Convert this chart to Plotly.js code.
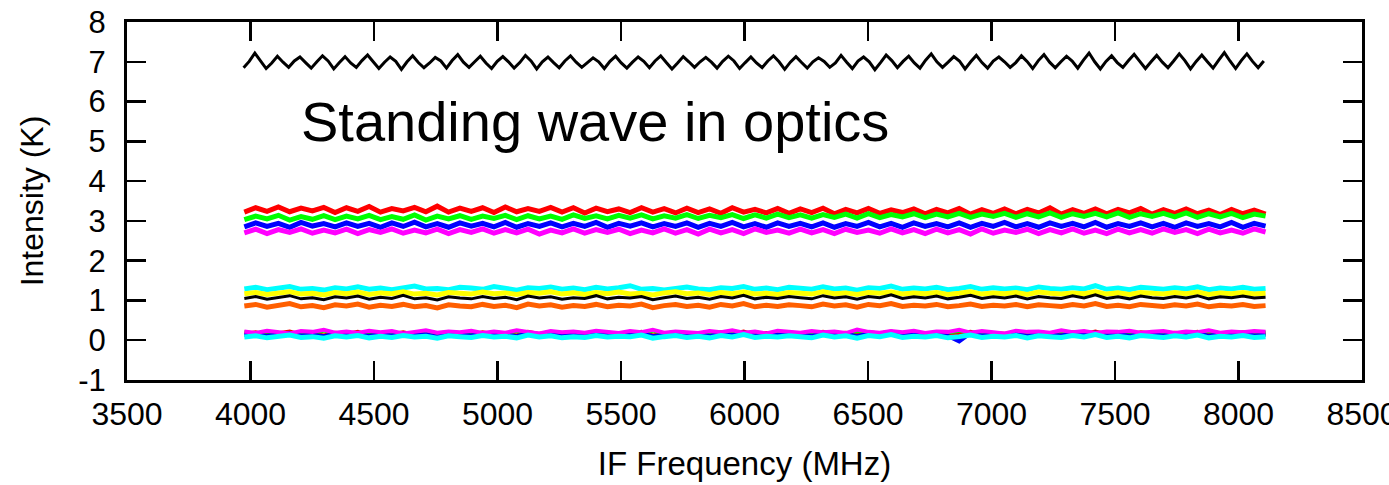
<!DOCTYPE html>
<html><head><meta charset="utf-8">
<script src="https://cdn.plot.ly/plotly-3.0.1.min.js"></script>
<style>html,body{margin:0;padding:0;background:#fff}#chart{width:1389px;height:485px}</style>
</head><body><div id="chart"></div>
<script>
// Frequency grids (MHz)
const TOP_START = 3972, TOP_STEP = 22.82;   // black standing-wave spectrum
const BAND_START = 3975, BAND_STEP = 45.94; // other spectra

// Top black spectrum (standing wave in optics), K
const topBlack = [
6.85,7.01,7.22,7.03, 6.83,6.97,7.14,6.99, 6.86,7.02,7.12,6.98, 6.84,7.0,7.15,7.02, 6.82,6.98,7.13,6.97,
6.86,7.03,7.17,7.0, 6.83,6.99,7.12,7.01, 6.81,7.0,7.15,6.98, 6.85,6.97,7.11,7.02, 6.84,7.03,7.18,6.99,
6.86,7.0,7.14,6.97, 6.83,7.01,7.13,7.0, 6.84,6.98,7.16,7.02, 6.82,7.0,7.12,6.98, 6.85,7.02,7.15,6.99,
6.86,6.98,7.1,7.0, 6.83,7.01,7.14,6.97, 6.84,6.99,7.12,7.01, 6.85,7.02,7.15,6.98, 6.82,6.97,7.13,7.0,
6.86,7.0,7.11,6.99, 6.84,7.01,7.14,7.02, 6.83,6.98,7.12,6.97, 6.85,7.02,7.15,7.0, 6.81,6.99,7.13,6.98,
6.84,7.0,7.1,7.01, 6.86,6.97,7.16,6.99, 6.83,7.02,7.12,7.0, 6.8,6.98,7.17,7.03, 6.85,7.01,7.14,6.97,
6.84,7.04,7.2,7.0, 6.86,6.99,7.13,7.02, 6.82,7.0,7.16,6.98, 6.84,7.02,7.12,7.0, 6.86,6.98,7.15,7.01,
6.83,7.03,7.18,6.99, 6.85,7.0,7.14,7.02, 6.84,7.04,7.22,7.0, 6.82,7.01,7.15,6.98, 6.86,7.03,7.19,7.01,
6.83,7.0,7.16,6.99, 6.85,7.02,7.2,7.03, 6.82,7.01,7.17,7.0, 6.84,7.04,7.23,7.02, 6.83,7.03,7.2,7.01,
6.85,7.02];

// ~3 K group
const redHi = [
3.22,3.33,3.24,3.35,3.23,3.32,3.25,3.34,3.21,3.33,
3.24,3.36,3.22,3.31,3.25,3.34,3.23,3.37,3.22,3.32,
3.24,3.33,3.21,3.35,3.23,3.31,3.24,3.34,3.22,3.33,
3.2,3.32,3.23,3.3,3.21,3.33,3.22,3.31,3.2,3.32,
3.21,3.3,3.19,3.33,3.22,3.29,3.2,3.31,3.19,3.3,
3.21,3.32,3.18,3.29,3.2,3.31,3.19,3.28,3.21,3.3,
3.18,3.29,3.2,3.31,3.17,3.28,3.19,3.3,3.18,3.29,
3.2,3.33,3.17,3.28,3.19,3.3,3.18,3.29,3.2,3.31,
3.17,3.28,3.19,3.3,3.18,3.27,3.16,3.29,3.18,3.27,3.17];
const greenHi = [
3.03,3.12,3.05,3.14,3.02,3.11,3.04,3.13,3.03,3.12,
3.05,3.14,3.03,3.11,3.04,3.15,3.02,3.12,3.05,3.13,
3.04,3.12,3.06,3.14,3.03,3.13,3.05,3.12,3.04,3.15,
3.06,3.13,3.05,3.14,3.07,3.15,3.05,3.13,3.07,3.16,
3.06,3.14,3.08,3.16,3.06,3.15,3.07,3.17,3.08,3.15,
3.07,3.16,3.09,3.17,3.07,3.18,3.08,3.16,3.1,3.18,
3.08,3.17,3.1,3.19,3.09,3.17,3.11,3.19,3.09,3.18,
3.1,3.2,3.09,3.18,3.11,3.19,3.1,3.2,3.09,3.18,
3.11,3.19,3.1,3.2,3.09,3.18,3.1,3.19,3.08,3.17,3.12];
const blueHi = [
2.85,2.95,2.86,2.94,2.84,2.96,2.87,2.93,2.85,2.95,
2.86,2.94,2.84,2.95,2.86,2.97,2.85,2.93,2.84,2.95,
2.87,2.94,2.85,2.96,2.84,2.93,2.86,2.95,2.85,2.94,
2.86,2.96,2.84,2.94,2.87,2.95,2.85,2.93,2.86,2.95,
2.84,2.94,2.86,2.96,2.85,2.93,2.84,2.95,2.86,2.94,
2.85,2.95,2.84,2.93,2.86,2.96,2.85,2.94,2.84,2.95,
2.86,2.93,2.85,2.95,2.84,2.94,2.86,2.96,2.85,2.93,
2.84,2.95,2.86,2.94,2.85,2.96,2.84,2.93,2.86,2.95,
2.85,2.94,2.84,2.95,2.86,2.93,2.85,2.96,2.84,2.94,2.87];
const magentaHi = [
2.7,2.79,2.68,2.78,2.71,2.8,2.69,2.77,2.7,2.79,
2.68,2.78,2.71,2.8,2.69,2.77,2.7,2.79,2.68,2.78,
2.71,2.8,2.69,2.78,2.7,2.79,2.67,2.77,2.7,2.8,
2.69,2.78,2.71,2.79,2.68,2.77,2.7,2.8,2.69,2.78,
2.67,2.79,2.7,2.78,2.68,2.8,2.71,2.77,2.69,2.79,
2.7,2.78,2.68,2.79,2.71,2.77,2.69,2.8,2.7,2.78,
2.68,2.79,2.7,2.78,2.67,2.8,2.69,2.77,2.71,2.79,
2.68,2.78,2.7,2.8,2.69,2.77,2.68,2.79,2.7,2.78,
2.69,2.8,2.71,2.78,2.68,2.79,2.7,2.77,2.69,2.8,2.72];

// ~1 K group
const cyanMid = [
1.29,1.33,1.27,1.31,1.35,1.28,1.3,1.26,1.32,1.29,
1.34,1.28,1.31,1.27,1.32,1.36,1.29,1.3,1.27,1.33,
1.31,1.28,1.35,1.29,1.26,1.32,1.3,1.34,1.28,1.31,
1.27,1.33,1.29,1.32,1.37,1.28,1.3,1.26,1.31,1.34,
1.29,1.27,1.32,1.3,1.35,1.28,1.31,1.27,1.33,1.3,
1.28,1.34,1.29,1.31,1.26,1.32,1.3,1.36,1.28,1.31,
1.29,1.33,1.27,1.3,1.35,1.28,1.32,1.29,1.31,1.27,
1.34,1.3,1.28,1.32,1.29,1.37,1.28,1.31,1.27,1.33,
1.3,1.28,1.32,1.29,1.34,1.27,1.31,1.29,1.33,1.28,1.3];
const yellowMid = [
1.17,1.2,1.15,1.19,1.22,1.16,1.18,1.14,1.2,1.17,
1.21,1.15,1.19,1.17,1.22,1.16,1.18,1.14,1.2,1.18,
1.16,1.21,1.17,1.19,1.15,1.2,1.18,1.22,1.16,1.19,
1.15,1.2,1.17,1.21,1.16,1.18,1.14,1.19,1.22,1.17,
1.19,1.15,1.2,1.17,1.21,1.16,1.18,1.15,1.2,1.18,
1.16,1.22,1.17,1.19,1.15,1.2,1.18,1.21,1.16,1.19,
1.17,1.2,1.15,1.18,1.22,1.16,1.19,1.17,1.2,1.15,
1.21,1.18,1.16,1.19,1.17,1.22,1.16,1.19,1.15,1.2,
1.18,1.16,1.2,1.17,1.21,1.15,1.19,1.17,1.2,1.16,1.18];
const blackMid = [
1.05,1.1,1.03,1.08,1.12,1.04,1.07,1.02,1.09,1.06,
1.11,1.03,1.08,1.05,1.13,1.04,1.07,1.01,1.09,1.06,
1.04,1.1,1.05,1.08,1.02,1.11,1.06,1.09,1.03,1.07,
1.05,1.12,1.04,1.08,1.06,1.1,1.02,1.07,1.11,1.05,
1.08,1.03,1.1,1.06,1.13,1.04,1.08,1.05,1.1,1.07,
1.04,1.12,1.06,1.09,1.03,1.1,1.07,1.14,1.05,1.09,
1.06,1.11,1.04,1.08,1.13,1.05,1.09,1.06,1.11,1.04,
1.1,1.07,1.05,1.12,1.06,1.14,1.05,1.09,1.04,1.11,
1.07,1.05,1.1,1.06,1.12,1.04,1.09,1.07,1.11,1.06,1.08];
const orangeMid = [
0.86,0.9,0.83,0.88,0.92,0.84,0.87,0.82,0.89,0.86,
0.91,0.83,0.88,0.85,0.9,0.84,0.87,0.81,0.89,0.86,
0.84,0.9,0.85,0.88,0.82,0.91,0.86,0.89,0.83,0.87,
0.85,0.9,0.84,0.88,0.86,0.91,0.82,0.87,0.9,0.85,
0.88,0.83,0.9,0.86,0.92,0.84,0.88,0.85,0.89,0.87,
0.84,0.91,0.86,0.89,0.83,0.9,0.87,0.92,0.85,0.88,
0.86,0.9,0.84,0.87,0.91,0.85,0.88,0.86,0.9,0.84,
0.89,0.87,0.85,0.9,0.86,0.92,0.85,0.88,0.84,0.9,
0.87,0.85,0.89,0.86,0.91,0.84,0.88,0.86,0.9,0.85,0.87];

// ~0 K group
const redLo = [
0.16,0.2,0.13,0.18,0.22,0.14,0.17,0.12,0.19,0.16,
0.21,0.13,0.18,0.15,0.2,0.14,0.17,0.11,0.19,0.16,
0.14,0.2,0.15,0.18,0.12,0.21,0.16,0.19,0.13,0.17,
0.15,0.2,0.14,0.18,0.16,0.21,0.12,0.17,0.2,0.15,
0.18,0.13,0.2,0.16,0.22,0.14,0.18,0.15,0.19,0.17,
0.14,0.21,0.16,0.19,0.13,0.2,0.17,0.22,0.15,0.18,
0.16,0.2,0.14,0.17,0.21,0.15,0.18,0.16,0.2,0.14,
0.19,0.17,0.15,0.2,0.16,0.22,0.15,0.18,0.14,0.2,
0.17,0.15,0.19,0.16,0.21,0.14,0.18,0.16,0.2,0.15,0.17];
const greenLo = [
0.2,0.17,0.22,0.18,0.15,0.21,0.19,0.24,0.17,0.2,
0.16,0.22,0.18,0.21,0.15,0.19,0.23,0.17,0.2,0.18,
0.22,0.16,0.2,0.17,0.23,0.19,0.15,0.21,0.18,0.2,
0.17,0.22,0.19,0.16,0.21,0.18,0.24,0.17,0.2,0.19,
0.16,0.21,0.18,0.23,0.17,0.2,0.15,0.22,0.19,0.17,
0.21,0.18,0.2,0.16,0.23,0.19,0.17,0.21,0.18,0.22,
0.16,0.2,0.19,0.24,0.17,0.21,0.18,0.15,0.22,0.19,
0.2,0.17,0.23,0.18,0.21,0.16,0.2,0.19,0.22,0.17,
0.19,0.21,0.16,0.2,0.18,0.23,0.17,0.2,0.18,0.21,0.19];
const blueLo = [
0.13,0.16,0.11,0.15,0.18,0.12,0.14,0.1,0.16,0.13,
0.17,0.11,0.15,0.12,0.17,0.13,0.15,0.09,0.16,0.14,
0.12,0.17,0.13,0.15,0.1,0.18,0.13,0.16,0.11,0.14,
0.12,0.17,0.13,0.15,0.14,0.18,0.1,0.14,0.17,0.12,
0.15,0.11,0.17,0.13,0.19,0.12,0.15,0.13,0.16,0.14,
0.11,0.18,0.13,0.16,0.1,0.17,0.14,0.19,0.12,0.15,
0.13,0.17,0.11,-0.03,0.18,0.12,0.15,0.13,0.17,0.11,
0.16,0.14,0.12,0.17,0.13,0.19,0.12,0.15,0.11,0.17,
0.14,0.12,0.16,0.13,0.18,0.11,0.15,0.13,0.17,0.12,0.14];
const magentaLo = [
0.22,0.18,0.24,0.2,0.17,0.23,0.21,0.26,0.19,0.22,
0.18,0.24,0.2,0.23,0.17,0.21,0.25,0.19,0.22,0.2,
0.24,0.18,0.22,0.19,0.25,0.21,0.17,0.23,0.2,0.22,
0.19,0.24,0.21,0.18,0.23,0.2,0.26,0.19,0.22,0.21,
0.18,0.23,0.2,0.25,0.19,0.22,0.17,0.24,0.21,0.19,
0.23,0.2,0.22,0.18,0.27,0.21,0.19,0.23,0.2,0.24,
0.18,0.22,0.21,0.26,0.19,0.23,0.2,0.17,0.24,0.21,
0.22,0.19,0.25,0.2,0.23,0.18,0.22,0.21,0.24,0.19,
0.21,0.23,0.18,0.22,0.2,0.25,0.19,0.22,0.2,0.23,0.21];
const cyanLo = [
0.08,0.11,0.06,0.1,0.13,0.07,0.09,0.05,0.11,0.08,
0.12,0.06,0.1,0.07,0.12,0.08,0.1,0.05,0.11,0.09,
0.07,0.12,0.08,0.1,0.06,0.13,0.08,0.11,0.06,0.09,
0.07,0.12,0.08,0.1,0.09,0.13,0.05,0.09,0.12,0.07,
0.1,0.06,0.12,0.08,0.14,0.07,0.1,0.08,0.11,0.09,
0.06,0.13,0.08,0.11,0.05,0.12,0.09,0.14,0.07,0.1,
0.08,0.12,0.06,0.09,0.13,0.07,0.1,0.08,0.12,0.06,
0.11,0.09,0.07,0.12,0.08,0.14,0.07,0.1,0.06,0.12,
0.09,0.07,0.11,0.08,0.13,0.06,0.1,0.08,0.12,0.07,0.09];

const xTickVals = [3500,4000,4500,5000,5500,6000,6500,7000,7500,8000,8500];
const yTickVals = [-1,0,1,2,3,4,5,6,7,8];
const annotationText = 'Standing wave in optics';

function grid(start, step, n){ const a=[]; for(let i=0;i<n;i++) a.push(start+i*step); return a; }

const bandSeries = [
  [redLo,'#ff0000',4],[greenLo,'#00ff00',4],[blueLo,'#0000ff',4],[magentaLo,'#ff00ff',4],[cyanLo,'#00ffff',5],
  [orangeMid,'#ff5f00',5],[cyanMid,'#00ffff',5],[yellowMid,'#ffff00',5],[blackMid,'#000000',3],
  [redHi,'#ff0000',5],[greenHi,'#00ff00',5],[blueHi,'#0000ff',5],[magentaHi,'#ff00ff',5]
];
const traces = bandSeries.map(([ys,c,w]) => ({
  type:'scatter', mode:'lines', x:grid(BAND_START,BAND_STEP,ys.length), y:ys,
  line:{color:c,width:w}, hoverinfo:'skip', showlegend:false
}));
traces.push({type:'scatter',mode:'lines',x:grid(TOP_START,TOP_STEP,topBlack.length),y:topBlack,
  line:{color:'#000000',width:3},hoverinfo:'skip',showlegend:false});

const FONT = 'Liberation Sans, Arial, Helvetica, sans-serif';
const layout = {
  width:1389, height:485,
  margin:{l:127,r:27,t:22,b:105},
  paper_bgcolor:'#fff', plot_bgcolor:'#fff',
  font:{family:FONT,color:'#000'},
  xaxis:{range:[3500,8500],tickvals:xTickVals,ticktext:xTickVals.map(String),
    showgrid:false,zeroline:false,showline:true,linecolor:'#000',linewidth:3,mirror:'ticks',
    ticks:'inside',ticklen:19,tickwidth:2.5,tickcolor:'#000',ticklabeloverflow:'allow',
    tickfont:{family:FONT,size:32,color:'#000'},ticklabelstandoff:4,
    title:{text:'IF Frequency (MHz)',font:{family:FONT,size:33,color:'#000'},standoff:21}},
  yaxis:{range:[-1,8],tickvals:yTickVals,ticktext:yTickVals.map(String),
    showgrid:false,zeroline:false,showline:true,linecolor:'#000',linewidth:3,mirror:'ticks',
    ticks:'inside',ticklen:19,tickwidth:2.5,tickcolor:'#000',ticklabeloverflow:'allow',
    tickfont:{family:FONT,size:31,color:'#000'},ticklabelstandoff:12,
    title:{text:'Intensity (K)',font:{family:FONT,size:32,color:'#000'},standoff:26}},
  annotations:[{x:4195,y:5.49,xref:'x',yref:'y',xanchor:'left',yanchor:'middle',showarrow:false,
    text:annotationText,font:{family:FONT,size:56,color:'#000'}}]
};
Plotly.newPlot('chart',traces,layout,{staticPlot:true,displayModeBar:false});
</script></body></html>
